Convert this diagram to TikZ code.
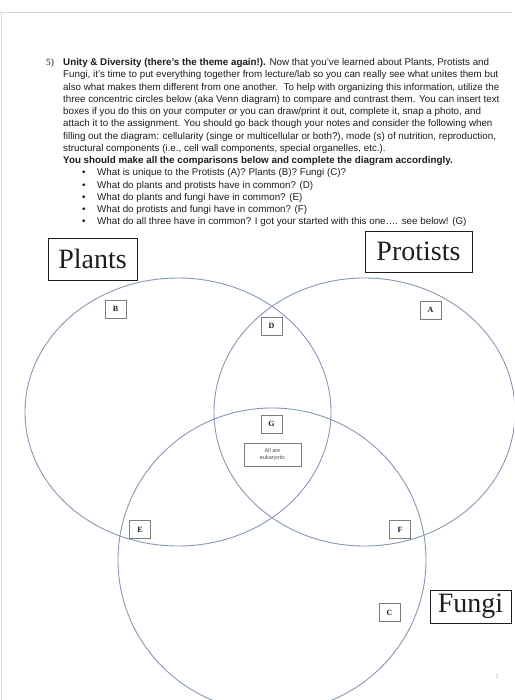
\documentclass[tikz,border=0pt]{standalone}
\usepackage{fontspec}
\setmainfont{Liberation Serif}
\setsansfont{Liberation Sans}
\usetikzlibrary{positioning}
\definecolor{ringblue}{HTML}{8698B6}
\definecolor{boxgray}{HTML}{7C7C7C}
\definecolor{pagegray}{HTML}{D8D8D8}
\definecolor{ink}{HTML}{1E1E1E}

\begin{document}
\begin{tikzpicture}[x=1pt,y=-1pt,
  ring/.style={draw=ringblue,line width=0.9pt},
  title/.style={draw=ink,line width=0.8pt,inner sep=0pt,
    font=\rmfamily\fontsize{28}{30}\selectfont,text=ink},
  letter/.style={draw=boxgray,line width=0.8pt,minimum width=21pt,minimum height=18pt,
    inner sep=0pt,font=\rmfamily\bfseries\fontsize{8}{9}\selectfont,text=ink},
  note/.style={draw=boxgray,line width=0.8pt,align=center,inner sep=0pt,
    font=\sffamily\fontsize{5.5}{7}\selectfont,text=black!70},
  prose/.style={align=left,inner sep=0pt,anchor=north west,text=ink,
    font=\sffamily\fontsize{9.8}{12.25}\selectfont}
]
\useasboundingbox (0,0) rectangle (514,700);
\fill[white] (0,0) rectangle (514,700);
\clip (0,0) rectangle (514,700);
\draw[pagegray,line width=1pt] (0,13) -- (512,13);
\draw[pagegray,line width=1pt] (1,13) -- (1,700);

\node[anchor=base west,inner sep=0pt,font=\rmfamily\fontsize{9.5}{11}\selectfont,text=ink] (qnum) at (46,65.5) {5)};
\node[prose] (prompt) at (63,58.3) {%
\textbf{Unity \& Diversity (there's the theme again!).} Now that you've learned about Plants, Protists and\\
Fungi, it's time to put everything together from lecture/lab so you can really see what unites them but\\
also what makes them different from one another.\ \ To help with organizing this information, utilize the\\
three concentric circles below (aka Venn diagram) to compare and contrast them. You can insert text\\
boxes if you do this on your computer or you can draw/print it out, complete it, snap a photo, and\\
attach it to the assignment. You should go back though your notes and consider the following when\\
filling out the diagram: cellularity (singe or multicellular or both?), mode (s) of nutrition, reproduction,\\
structural components (i.e., cell wall components, special organelles, etc.).\\
\textbf{You should make all the comparisons below and complete the diagram accordingly.}\\
\hspace*{19pt}\makebox[15pt][l]{\textbullet}What is unique to the Protists (A)? Plants (B)? Fungi (C)?\\
\hspace*{19pt}\makebox[15pt][l]{\textbullet}What do plants and protists have in common? (D)\\
\hspace*{19pt}\makebox[15pt][l]{\textbullet}What do plants and fungi have in common? (E)\\
\hspace*{19pt}\makebox[15pt][l]{\textbullet}What do protists and fungi have in common? (F)\\
\hspace*{19pt}\makebox[15pt][l]{\textbullet}What do all three have in common? I got your started with this one…. see below! (G)};

\draw[ring] (178,412) ellipse [x radius=153, y radius=134];
\draw[ring] (364.5,412) ellipse [x radius=150.5, y radius=134];
\draw[ring] (272,560) ellipse [x radius=154, y radius=152];

\node[title,minimum width=89pt,minimum height=42pt] (plants) at (92.5,259) {Plants};
\node[title,minimum width=107pt,minimum height=41pt] (protists) at (418.5,251.5) {Protists};
\node[title,minimum width=81pt,minimum height=33pt] (fungi) at (470.5,606.5) {Fungi};

\node[letter] (uniqueB) at (115.5,309) {B};
\node[letter] (uniqueA) at (430.5,310) {A};
\node[letter] (sharedD) at (271.5,326) {D};
\node[letter] (sharedG) at (271.5,424) {G};
\node[letter] (sharedE) at (140,529.5) {E};
\node[letter] (sharedF) at (400,529.5) {F};
\node[letter] (uniqueC) at (389.5,612.5) {C};
\node[note,minimum width=57pt,minimum height=23pt] (eukaryotic) at (272.5,454.5) {All are\\eukaryotic};

\node[inner sep=0pt,font=\sffamily\fontsize{6}{7}\selectfont,text=black!25] (pagenum) at (497,676) {2};
\end{tikzpicture}
\end{document}
